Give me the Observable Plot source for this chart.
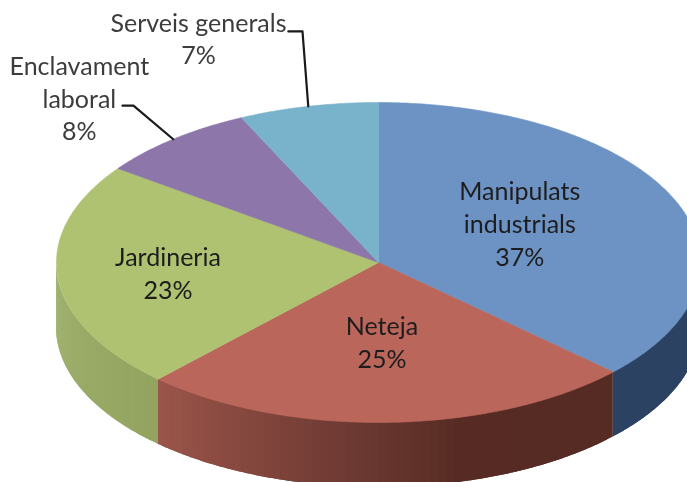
<!DOCTYPE html>
<html><head><meta charset="utf-8">
<script src="https://cdn.jsdelivr.net/npm/d3@7"></script>
<script src="https://cdn.jsdelivr.net/npm/@observablehq/plot@0.6"></script>
<style>
html,body{margin:0;padding:0;background:#fff;overflow:hidden}
svg{display:block;filter:blur(.45px)}
</style></head><body><div id="chart"></div>
<script>
const categories = ["Manipulats\nindustrials", "Neteja", "Jardineria", "Enclavament\nlaboral", "Serveis generals"];
const shares = [37, 25, 23, 8, 7];
const topColors = ["#6d93c4", "#bb665b", "#afc272", "#8c76aa", "#79b3cb"];
const wallStops = [
  [[90, "#2c4262"], [134, "#2c4262"]],
  [[134, "#552b23"], [165, "#572b23"], [185, "#6d3a33"], [205, "#86483f"], [224, "#9c564b"]],
  [[224, "#92a45f"], [250, "#9aac68"], [270, "#a3b572"]],
  [], []
];
// label offset (chart units) from the slice's mid-angle point at half radius
const labelOffsets = [[-0.02, 0.05], [-0.005, 0.0075], [-0.156, -0.0125], null, null];
// leader label end + elbow in chart units (radius = 1)
const leaders = [null, null, null, [[-0.795, 0.98], [-0.761, 0.98]], [[-0.28, 1.444], [-0.236, 1.444]]];
const outerLabels = [null, null, null, [-0.929, 1.033], [-0.559, 1.406]];

const depth = 65 / 160;
const total = d3.sum(shares);
let cum = 0;
const slices = shares.map((v, i) => {
  const start = cum / total * 360; cum += v;
  return {i, start, end: cum / total * 360, mid: start + v / total * 180};
});
const px = a => Math.sin(a * Math.PI / 180), py = a => Math.cos(a * Math.PI / 180);

const face = slices.flatMap(s => {
  const pts = [{s: s.i, x: 0, y: 0}];
  for (const a of d3.range(s.start, s.end, 0.5).concat(s.end)) pts.push({s: s.i, x: px(a), y: py(a)});
  pts.push({s: s.i, x: 0, y: 0});
  return pts.map(p => ({...p, color: topColors[s.i]}));
});

const walls = [];
slices.forEach(s => {
  const stops = wallStops[s.i];
  if (!stops.length) return;
  const aStart = Math.max(s.start, 90), aEnd = Math.min(s.end, 270);
  const col = d3.scaleLinear().domain(stops.map(d => d[0])).range(stops.map(d => d[1])).clamp(true);
  for (let a = aStart; a < aEnd; a += 1.5) {
    const b = Math.min(a + 3, aEnd), color = col(a + 0.75), z = s.i + "-" + a;
    const ts = d3.range(a, b, 0.5).concat(b);
    for (const t of ts) walls.push({z, color, x: px(t), y1: py(t), y2: py(t) - depth});
  }
});

const inner = slices.filter(s => labelOffsets[s.i]).map(s => ({
  text: categories[s.i] + "\n" + shares[s.i] + "%",
  x: 0.5 * px(s.mid) + labelOffsets[s.i][0], y: 0.5 * py(s.mid) + labelOffsets[s.i][1]
}));
const outer = slices.filter(s => outerLabels[s.i]).map(s => ({
  text: categories[s.i] + "\n" + shares[s.i] + "%",
  x: outerLabels[s.i][0], y: outerLabels[s.i][1]
}));
const leaderPts = slices.filter(s => leaders[s.i]).flatMap(s => [
  {s: s.i, x: leaders[s.i][0][0], y: leaders[s.i][0][1]},
  {s: s.i, x: leaders[s.i][1][0], y: leaders[s.i][1][1]},
  {s: s.i, x: px(s.mid), y: py(s.mid)}
]);

const font = "Lato, 'Open Sans', sans-serif";
const chart = Plot.plot({
  width: 687, height: 482, margin: 0,
  style: {background: "#fff", fontFamily: font},
  x: {domain: [-378 / 322, 309 / 322], range: [0, 687], axis: null},
  y: {domain: [262 / 160, -220 / 160], range: [0, 482], axis: null},
  marks: [
    Plot.area(walls, {x1: "x", y1: "y1", y2: "y2", z: "z", fill: "color"}),
    Plot.line(face, {x: "x", y: "y", z: "s", fill: "color", stroke: "color", strokeWidth: 0.6, curve: "linear"}),
    Plot.line(leaderPts, {x: "x", y: "y", z: "s", stroke: "#1a1a1a", strokeWidth: 2.2, curve: "linear"}),
    Plot.text(inner, {x: "x", y: "y", text: "text", fontSize: 25, lineHeight: 1.31, fill: "#1d1d1d", lineAnchor: "middle"}),
    Plot.text(outer, {x: "x", y: "y", text: "text", fontSize: 25, lineHeight: 1.31, fill: "#3c3c3c", lineAnchor: "middle"})
  ]
});
document.getElementById("chart").append(chart);
</script></body></html>
